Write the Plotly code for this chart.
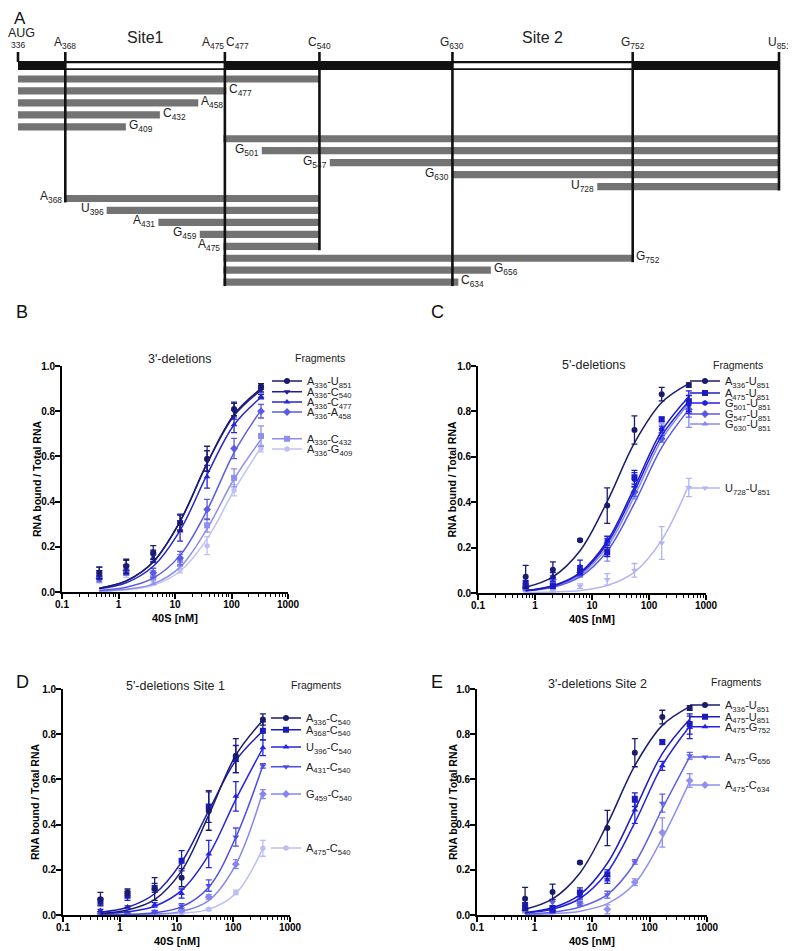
import plotly.graph_objects as go

W, H = 796, 951          # browser window (screenshot) size
OFF = 8                  # page body margin that offsets the plot div
FW, FH = W - OFF, H - OFF
FONT = "Liberation Sans"

# ---------------- Panel A : fragment map (nucleotide positions) ----------------
genome_start, genome_end = 336, 851
site1 = (368, 476)
site2 = (630, 752)
frag_start = [336, 336, 336, 336, 336, 475, 501, 547, 630, 728, 368, 396, 431, 459, 475, 475, 475, 475]
frag_end   = [540, 477, 458, 432, 409, 851, 851, 851, 851, 851, 540, 540, 540, 540, 540, 752, 656, 634]
frag_label = ["", "C<sub>477</sub>", "A<sub>458</sub>", "C<sub>432</sub>", "G<sub>409</sub>", "",
              "G<sub>501</sub>", "G<sub>547</sub>", "G<sub>630</sub>", "U<sub>728</sub>",
              "A<sub>368</sub>", "U<sub>396</sub>", "A<sub>431</sub>", "G<sub>459</sub>", "A<sub>475</sub>",
              "G<sub>752</sub>", "G<sub>656</sub>", "C<sub>634</sub>"]
frag_side = ["", "end", "end", "end", "end", "",
             "start", "start", "start", "start",
             "start", "start", "start", "start", "start",
             "end", "end", "end"]
landmark_pos = [336, 368, 476, 540, 630, 752, 851]
landmark_bottom_row = [None, 10, 17, 14, 17, 15, 9]
top_label_text = ["A<sub>368</sub>", "A<sub>475</sub>", "C<sub>477</sub>", "C<sub>540</sub>",
                  "G<sub>630</sub>", "G<sub>752</sub>", "U<sub>851</sub>"]
top_label_pos = [368, 476, 476, 540, 630, 752, 851]
top_label_anchor = ["center", "right", "left", "center", "center", "center", "center"]

# ---------------- Binding curves ----------------
conc_B = [0.457, 1.37, 4.12, 12.3, 37.0, 111, 333]
conc_C = [0.686, 2.06, 6.17, 18.5, 55.6, 167, 500]

B_names = ["A<sub>336</sub>-U<sub>851</sub>", "A<sub>336</sub>-C<sub>540</sub>", "A<sub>336</sub>-C<sub>477</sub>",
           "A<sub>336</sub>-A<sub>458</sub>", "A<sub>336</sub>-C<sub>432</sub>", "A<sub>336</sub>-G<sub>409</sub>"]
B_mean = [[0.085, 0.115, 0.175, 0.305, 0.59, 0.81, 0.91],
          [0.09, 0.11, 0.16, 0.31, 0.58, 0.80, 0.895],
          [0.075, 0.10, 0.15, 0.27, 0.51, 0.74, 0.865],
          [0.06, 0.095, 0.085, 0.15, 0.365, 0.635, 0.80],
          [0.07, 0.10, 0.065, 0.14, 0.295, 0.505, 0.69],
          [0.05, 0.08, 0.05, 0.10, 0.205, 0.45, 0.635]]
B_err = [[0.025, 0.03, 0.03, 0.035, 0.055, 0.03, 0.012],
         [0.02, 0.03, 0.025, 0.035, 0.045, 0.035, 0.01],
         [0.02, 0.02, 0.02, 0.045, 0.05, 0.035, 0.01],
         [0.015, 0.02, 0.02, 0.03, 0.045, 0.045, 0.03],
         [0.015, 0.02, 0.03, 0.025, 0.03, 0.04, 0.045],
         [0.01, 0.015, 0.02, 0.015, 0.04, 0.025, 0.015]]
B_fit = [[0.017, 0.049, 0.133, 0.312, 0.570, 0.786, 0.900],
         [0.017, 0.049, 0.134, 0.313, 0.568, 0.780, 0.893],
         [0.014, 0.041, 0.114, 0.273, 0.519, 0.740, 0.862],
         [0.007, 0.021, 0.061, 0.162, 0.362, 0.617, 0.805],
         [0.004, 0.012, 0.036, 0.110, 0.280, 0.500, 0.675],
         [0.003, 0.010, 0.030, 0.092, 0.235, 0.450, 0.640]]

C_names = ["A<sub>336</sub>-U<sub>851</sub>", "A<sub>475</sub>-U<sub>851</sub>", "G<sub>501</sub>-U<sub>851</sub>",
           "G<sub>547</sub>-U<sub>851</sub>", "G<sub>630</sub>-U<sub>851</sub>", "U<sub>728</sub>-U<sub>851</sub>"]
full_mean = [0.072, 0.102, 0.232, 0.385, 0.718, 0.876, 0.916]
full_err = [0.05, 0.035, 0.005, 0.078, 0.062, 0.03, 0.01]
full_fit = [0.025, 0.071, 0.186, 0.403, 0.661, 0.839, 0.922]
a475_mean = [0.04, 0.03, 0.10, 0.18, 0.51, 0.765, 0.845]
a475_err = [0.015, 0.01, 0.02, 0.02, 0.03, 0.01, 0.045]
a475_fit = [0.011, 0.032, 0.090, 0.229, 0.466, 0.714, 0.866]
C_mean = [full_mean, a475_mean,
          [0.03, 0.07, 0.115, 0.23, 0.50, 0.72, 0.83],
          [0.025, 0.06, 0.09, 0.22, 0.445, 0.68, 0.81],
          [0.02, 0.035, 0.085, 0.165, 0.43, 0.725, 0.80],
          [0.01, 0.01, 0.03, 0.06, 0.10, 0.22, 0.465]]
C_err = [full_err, a475_err,
         [0.01, 0.02, 0.03, 0.02, 0.03, 0.015, 0.04],
         [0.01, 0.015, 0.015, 0.02, 0.02, 0.015, 0.035],
         [0.01, 0.01, 0.015, 0.025, 0.015, 0.02, 0.07],
         [0.005, 0.005, 0.01, 0.025, 0.03, 0.072, 0.04]]
C_fit = [full_fit, a475_fit,
         [0.0105, 0.031, 0.086, 0.218, 0.449, 0.693, 0.845],
         [0.0085, 0.025, 0.071, 0.184, 0.396, 0.642, 0.809],
         [0.0095, 0.028, 0.079, 0.203, 0.427, 0.675, 0.836],
         [0.001, 0.004, 0.011, 0.033, 0.092, 0.233, 0.476]]

D_names = ["A<sub>336</sub>-C<sub>540</sub>", "A<sub>368</sub>-C<sub>540</sub>", "U<sub>396</sub>-C<sub>540</sub>",
           "A<sub>431</sub>-C<sub>540</sub>", "G<sub>459</sub>-C<sub>540</sub>", "A<sub>475</sub>-C<sub>540</sub>"]
D_mean = [[0.07, 0.10, 0.115, 0.165, 0.46, 0.705, 0.865],
          [0.06, 0.085, 0.12, 0.24, 0.48, 0.69, 0.815],
          [0.02, 0.035, 0.045, 0.095, 0.27, 0.525, 0.74],
          [0.01, 0.01, 0.015, 0.04, 0.13, 0.345, 0.66],
          [0.005, 0.005, 0.01, 0.02, 0.08, 0.225, 0.535],
          [0.0, 0.0, 0.005, 0.01, 0.025, 0.10, 0.295]]
D_err = [[0.03, 0.015, 0.05, 0.04, 0.085, 0.075, 0.025],
         [0.015, 0.02, 0.02, 0.045, 0.07, 0.06, 0.04],
         [0.005, 0.005, 0.01, 0.02, 0.06, 0.065, 0.035],
         [0.005, 0.005, 0.005, 0.01, 0.025, 0.04, 0.01],
         [0.003, 0.003, 0.005, 0.005, 0.01, 0.02, 0.02],
         [0.002, 0.002, 0.003, 0.005, 0.005, 0.01, 0.035]]
D_fit = [[0.007, 0.022, 0.068, 0.195, 0.442, 0.707, 0.862],
         [0.012, 0.034, 0.094, 0.234, 0.462, 0.684, 0.814],
         [0.005, 0.014, 0.039, 0.109, 0.266, 0.512, 0.739],
         [0.001, 0.003, 0.010, 0.036, 0.123, 0.344, 0.662],
         [0.0005, 0.001, 0.004, 0.016, 0.064, 0.223, 0.545],
         [0.0, 0.001, 0.003, 0.008, 0.025, 0.095, 0.295]]

E_names = ["A<sub>336</sub>-U<sub>851</sub>", "A<sub>475</sub>-U<sub>851</sub>", "A<sub>475</sub>-G<sub>752</sub>",
           "A<sub>475</sub>-G<sub>656</sub>", "A<sub>475</sub>-C<sub>634</sub>"]
E_mean = [full_mean, a475_mean,
          [0.03, 0.02, 0.085, 0.155, 0.465, 0.66, 0.83],
          [0.03, 0.055, 0.05, 0.09, 0.235, 0.495, 0.705],
          [0.02, 0.02, 0.05, 0.025, 0.145, 0.365, 0.595]]
E_err = [full_err, a475_err,
         [0.01, 0.01, 0.015, 0.015, 0.06, 0.02, 0.05],
         [0.01, 0.015, 0.01, 0.015, 0.01, 0.04, 0.015],
         [0.01, 0.01, 0.01, 0.02, 0.015, 0.065, 0.03]]
E_fit = [full_fit, a475_fit,
         [0.009, 0.026, 0.073, 0.190, 0.409, 0.662, 0.835],
         [0.004, 0.012, 0.035, 0.090, 0.230, 0.470, 0.700],
         [0.002, 0.006, 0.017, 0.050, 0.140, 0.340, 0.590]]

B_colors = ["#1b1b6e", "#1c1ca8", "#2626d0", "#5a5ae4", "#8e8eee", "#c0c0f6"]
C_colors = ["#1b1b6e", "#1c1cc0", "#2020e8", "#5858e8", "#8888f0", "#b4b4f4"]
D_colors = ["#1b1b6e", "#1c1cb8", "#2424e0", "#4c4ce6", "#8686ee", "#bdbdf6"]
E_colors = ["#1b1b6e", "#1c1cc0", "#2222e0", "#6060ea", "#9090f0"]
B_symbols = ["circle", "triangle-down", "triangle-up", "diamond", "square", "hexagon"]
C_symbols = ["circle", "square", "hexagon", "diamond", "triangle-up", "triangle-down"]
D_symbols = ["circle", "square", "triangle-up", "triangle-down", "diamond", "hexagon"]
E_symbols = ["circle", "square", "triangle-up", "triangle-down", "diamond"]


def px2x(px):
    return (px - OFF) / FW


def px2y(py):
    return 1 - (py - OFF) / FH


# panel A vertical layout: row i centre at ROW0 + ROWSTEP*i (screen pixels)
ROW0, ROWSTEP = 79.0, 11.95
A_TOP, A_BOT = 30, 300


def rowy(py):
    return (py - ROW0) / ROWSTEP


fig = go.Figure()
annotations = []
shapes = []


def ann(**kw):
    kw.setdefault("showarrow", False)
    kw.setdefault("xanchor", "center")
    kw.setdefault("yanchor", "middle")
    annotations.append(kw)


# ---------- Panel A ----------
fig.add_trace(go.Bar(
    y=list(range(len(frag_start))),
    x=[e - s for s, e in zip(frag_start, frag_end)],
    base=frag_start, orientation="h", width=0.6,
    marker=dict(color="#737373", line=dict(width=0)),
    xaxis="x", yaxis="y", showlegend=False, hoverinfo="skip"))

shapes.append(dict(type="rect", xref="x", yref="y", x0=genome_start, x1=genome_end,
                   y0=rowy(61), y1=rowy(70), fillcolor="#111111", line=dict(width=0), layer="above"))
for s0, s1 in (site1, site2):
    shapes.append(dict(type="rect", xref="x", yref="y", x0=s0, x1=s1,
                       y0=rowy(63.2), y1=rowy(68.3), fillcolor="white", line=dict(width=0), layer="above"))
for pos, bot in zip(landmark_pos, landmark_bottom_row):
    y1 = rowy(62) if bot is None else bot + 0.33
    shapes.append(dict(type="line", xref="x", yref="y", x0=pos, x1=pos, y0=rowy(52), y1=y1,
                       line=dict(color="#111111", width=2.6), layer="above"))

LBL = dict(family=FONT, size=12, color="#222222")
for i, (s, e, lab, side) in enumerate(zip(frag_start, frag_end, frag_label, frag_side)):
    if not lab:
        continue
    if side == "end":
        ann(x=e, y=i, xref="x", yref="y", text=lab, xanchor="left", xshift=1, yshift=1, font=LBL)
    else:
        ann(x=s, y=i, xref="x", yref="y", text=lab, xanchor="right", xshift=-1, yshift=1, font=LBL)

for txt, pos, anc in zip(top_label_text, top_label_pos, top_label_anchor):
    xs = {"center": 0, "right": 1, "left": -1}[anc]
    ann(x=pos, y=rowy(43), xref="x", yref="y", text=txt, xanchor=anc, xshift=xs, font=LBL)
ann(x=genome_start, y=rowy(33), xref="x", yref="y", text="AUG", xshift=3,
    font=dict(family=FONT, size=12.5, color="#222222"))
ann(x=genome_start, y=rowy(45), xref="x", yref="y", text="336", font=dict(family=FONT, size=8.5, color="#222222"))
ann(x=(site1[0] + site1[1]) / 2, y=rowy(38), xref="x", yref="y", text="Site1",
    font=dict(family=FONT, size=16, color="#222222"))
ann(x=(site2[0] + site2[1]) / 2, y=rowy(38), xref="x", yref="y", text="Site 2",
    font=dict(family=FONT, size=16, color="#222222"))
ann(x=px2x(20), y=px2y(18), xref="paper", yref="paper", text="A", font=dict(family=FONT, size=17, color="#111111"))

# x range: 336 -> 18 px, 851 -> 779 px (screen pixels)
slope = (779 - 18) / (851 - 336)
xA0 = 336 - (18 - OFF) / slope
xA1 = 336 + (W - 18) / slope

layout = dict(
    width=FW, height=FH, margin=dict(l=0, r=0, t=0, b=0, autoexpand=False),
    paper_bgcolor="white", plot_bgcolor="rgba(0,0,0,0)",
    font=dict(family=FONT, color="black"),
    xaxis=dict(domain=[0, 1], range=[xA0, xA1], visible=False, anchor="y"),
    yaxis=dict(domain=[px2y(A_BOT), px2y(A_TOP)], range=[rowy(A_BOT), rowy(A_TOP)], visible=False, anchor="x"),
    showlegend=True,
)

# ---------- Binding panels ----------
minor_vals = [k * 10 ** e for e in (-1, 0, 1, 2) for k in range(2, 10)]
panels = [
    dict(letter="B", xd=(62, 288), yd=(366, 592), conc=conc_B, mean=B_mean, err=B_err, fit=B_fit,
         names=B_names, colors=B_colors, symbols=B_symbols, title="3'-deletions", title_xy=(180, 359),
         frag_xy=(320, 358), leg_x=307, leg_y=[381, 391.7, 402, 412, 438.7, 449], ytitle_x=37,
         letter_xy=(22, 312)),
    dict(letter="C", xd=(478, 706), yd=(366, 593), conc=conc_C, mean=C_mean, err=C_err, fit=C_fit,
         names=C_names, colors=C_colors, symbols=C_symbols, title="5'-deletions", title_xy=(594, 365),
         frag_xy=(738, 365), leg_x=725, leg_y=[381, 393, 403, 414, 424, 488], ytitle_x=451,
         letter_xy=(437, 312)),
    dict(letter="D", xd=(63, 290), yd=(689, 915), conc=conc_B, mean=D_mean, err=D_err, fit=D_fit,
         names=D_names, colors=D_colors, symbols=D_symbols, title="5'-deletions Site 1", title_xy=(175, 686),
         frag_xy=(316, 685), leg_x=306, leg_y=[718, 729.7, 747, 766.7, 794, 848], ytitle_x=35,
         letter_xy=(22, 682)),
    dict(letter="E", xd=(477, 707), yd=(689, 915), conc=conc_C, mean=E_mean, err=E_err, fit=E_fit,
         names=E_names, colors=E_colors, symbols=E_symbols, title="3'-deletions Site 2", title_xy=(597, 684),
         frag_xy=(736, 682), leg_x=725, leg_y=[705, 716.7, 726.7, 757, 785], ytitle_x=453,
         letter_xy=(437, 682)),
]

legend_n = 0
for pi, p in enumerate(panels):
    ax = pi + 2
    xa, ya = f"x{ax}", f"y{ax}"
    layout[f"xaxis{ax}"] = dict(
        domain=[px2x(p["xd"][0]), px2x(p["xd"][1])], anchor=ya, type="log", range=[-1, 3],
        tickvals=[0.1, 1, 10, 100, 1000], ticktext=["0.1", "1", "10", "100", "1000"],
        ticks="outside", ticklen=5, tickwidth=1.5, tickcolor="black", ticklabelstandoff=-3,
        showline=True, linewidth=1.8, linecolor="black", showgrid=False, zeroline=False,
        minor=dict(tickvals=minor_vals, ticks="outside", ticklen=3, tickwidth=1, tickcolor="black", showgrid=False),
        tickfont=dict(family=FONT, size=10, color="black", weight="bold"))
    layout[f"yaxis{ax}"] = dict(
        domain=[px2y(p["yd"][1]), px2y(p["yd"][0])], anchor=xa, range=[0, 1.0],
        tickvals=[0, 0.2, 0.4, 0.6, 0.8, 1.0], tickformat=".1f",
        ticks="outside", ticklen=5, tickwidth=1.5, tickcolor="black", ticklabelstandoff=-2,
        showline=True, linewidth=1.8, linecolor="black", showgrid=False, zeroline=False,
        tickfont=dict(family=FONT, size=10, color="black", weight="bold"))

    n = len(p["names"])
    for k in reversed(range(n)):
        col = p["colors"][k]
        fig.add_trace(go.Scatter(x=p["conc"], y=p["fit"][k], mode="lines", xaxis=xa, yaxis=ya,
                                 line=dict(color=col, width=1.5, shape="spline", smoothing=1.0),
                                 showlegend=False, hoverinfo="skip"))
        fig.add_trace(go.Scatter(x=p["conc"], y=p["mean"][k], mode="markers", xaxis=xa, yaxis=ya,
                                 marker=dict(symbol=p["symbols"][k], size=6, color=col, line=dict(width=0)),
                                 error_y=dict(type="data", array=p["err"][k], color=col, thickness=1.3, width=3),
                                 showlegend=False))
    for k in range(n):
        legend_n += 1
        lname = "legend" if legend_n == 1 else f"legend{legend_n}"
        col = p["colors"][k]
        fig.add_trace(go.Scatter(x=[None], y=[None], mode="lines+markers", xaxis=xa, yaxis=ya,
                                 name=p["names"][k], legend=lname,
                                 line=dict(color=col, width=1.5),
                                 marker=dict(symbol=p["symbols"][k], size=6, color=col)))
        layout[lname] = dict(x=px2x(p["leg_x"] - 40), y=px2y(p["leg_y"][k]), xanchor="left", yanchor="middle",
                             xref="paper", yref="paper", bgcolor="rgba(0,0,0,0)", borderwidth=0,
                             font=dict(family=FONT, size=11, color="#222222"), itemclick=False)

    cx = (p["xd"][0] + p["xd"][1]) / 2
    cy = (p["yd"][0] + p["yd"][1]) / 2
    ann(x=px2x(p["title_xy"][0]), y=px2y(p["title_xy"][1]), xref="paper", yref="paper",
        text=p["title"], font=dict(family=FONT, size=12.5, color="#222222"))
    ann(x=px2x(p["frag_xy"][0]), y=px2y(p["frag_xy"][1]), xref="paper", yref="paper",
        text="Fragments", font=dict(family=FONT, size=10.5, color="#222222"))
    ann(x=px2x(p["ytitle_x"]), y=px2y(cy), xref="paper", yref="paper", textangle=-90,
        text="<b>RNA bound / Total RNA</b>", font=dict(family=FONT, size=10.5, color="black"))
    ann(x=px2x(cx), y=px2y(p["yd"][1] + 26), xref="paper", yref="paper",
        text="<b>40S [nM]</b>", font=dict(family=FONT, size=11, color="black"))
    ann(x=px2x(p["letter_xy"][0]), y=px2y(p["letter_xy"][1]), xref="paper", yref="paper",
        text=p["letter"], font=dict(family=FONT, size=18, color="#111111"))

layout["annotations"] = annotations
layout["shapes"] = shapes
fig.update_layout(**layout)
fig.write_html("out.html")
